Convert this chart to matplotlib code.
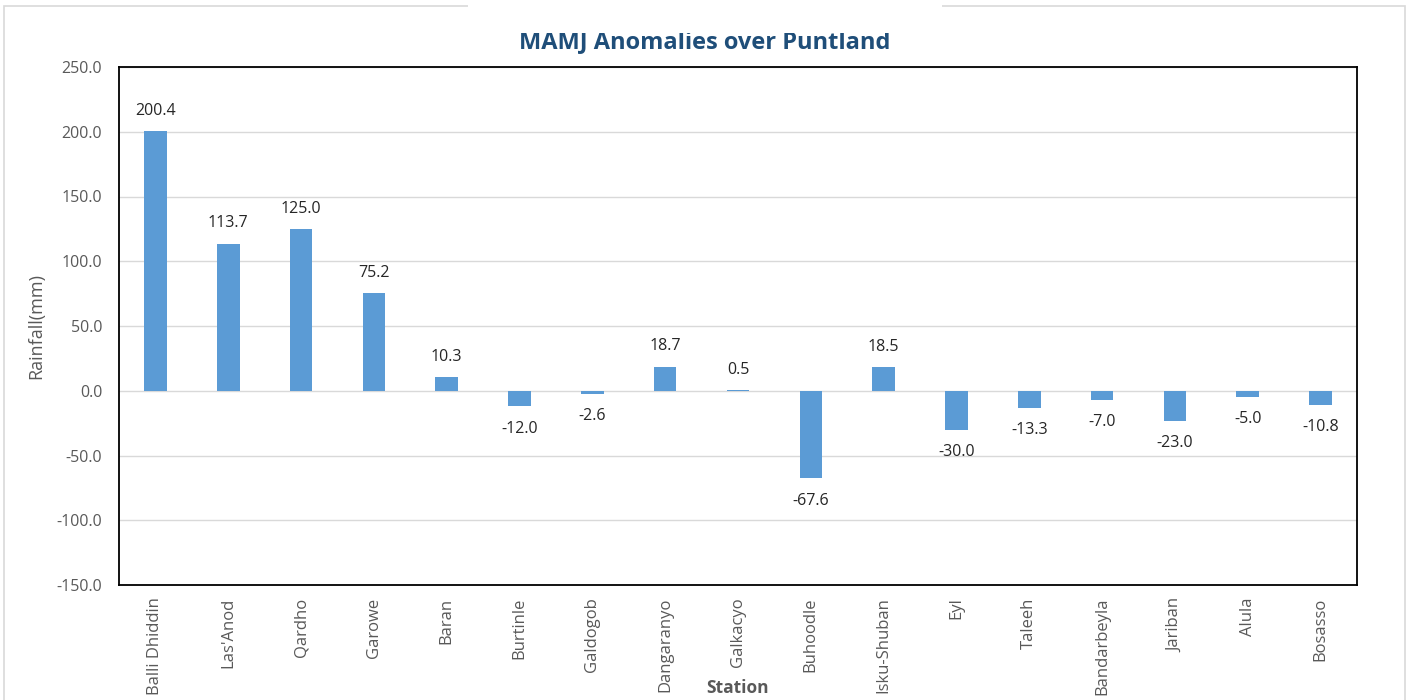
import matplotlib.pyplot as plt
import matplotlib.patches as patches
import numpy as np

stations = ['Balli Dhiddin', "Las'Anod", 'Qardho', 'Garowe', 'Baran', 'Burtinle',
            'Galdogob', 'Dangaranyo', 'Galkacyo', 'Buhoodle', 'Isku-Shuban', 'Eyl',
            'Taleeh', 'Bandarbeyla', 'Jariban', 'Alula', 'Bosasso']
anomalies = [200.4, 113.7, 125.0, 75.2, 10.3, -12.0, -2.6, 18.7, 0.5, -67.6,
             18.5, -30.0, -13.3, -7.0, -23.0, -5.0, -10.8]
yticks = [-150, -100, -50, 0, 50, 100, 150, 200, 250]

plt.rcParams['font.family'] = ['Open Sans', 'DejaVu Sans']
grey = '#595959'

W, H = 1413, 700
fig = plt.figure(figsize=(W / 100, H / 100), dpi=100, facecolor='white')

# outer chart frame
fig.add_artist(patches.Rectangle((4 / W, -0.01), 1401 / W, 1 - 6 / H + 0.01,
                                 transform=fig.transFigure, fill=False,
                                 edgecolor='#d9d9d9', lw=1.2))

ax = fig.add_axes([119 / W, 1 - 585 / H, (1357 - 119) / W, (585 - 67) / H])
x = np.arange(len(stations))
ax.bar(x, anomalies, width=0.31, color='#5b9bd5', zorder=3)

ax.set_xlim(-0.5, len(stations) - 0.5)
ax.set_ylim(-150, 250)
ax.set_yticks(yticks)
ax.set_yticklabels([f'{v:.1f}' for v in yticks], color=grey, fontsize=11.5)
ax.set_xticks(x)
ax.set_xticklabels(stations, rotation=90, color=grey, fontsize=12)
ax.tick_params(axis='y', length=0, pad=12)
ax.tick_params(axis='x', length=0, pad=9)
ax.grid(axis='y', color='#d9d9d9', lw=1, zorder=0)
for s in ax.spines.values():
    s.set_color('black')
    s.set_linewidth(1.3)

for xi, v in zip(x, anomalies):
    off = 14.5 if v >= 0 else -16
    ax.annotate(f'{v:.1f}', (xi, v), xytext=(0, off), textcoords='offset points',
                ha='center', va='center', fontsize=11.5, color='#262626')

ax.set_ylabel('Rainfall(mm)', color=grey, fontsize=13)
ax.yaxis.set_label_coords(-74 / 1238, 0.5)
fig.text((119 + 1357) / 2 / W, 1 - 688 / H, 'Station', ha='center', va='center',
         fontsize=12.5, fontweight='bold', color=grey)

fig.text(705 / W, 1 - 48 / H, 'MAMJ Anomalies over Puntland', ha='center', va='baseline',
         fontsize=17, fontweight='bold', color='#1f4e79')
# white box clipping the title top and the frame
fig.add_artist(patches.Rectangle((468 / W, 1 - 33 / H), (942 - 468) / W, 40 / H,
                                 transform=fig.transFigure, facecolor='white',
                                 edgecolor='none', zorder=10))

plt.savefig('out.png', dpi=100, facecolor='white')
plt.close()
